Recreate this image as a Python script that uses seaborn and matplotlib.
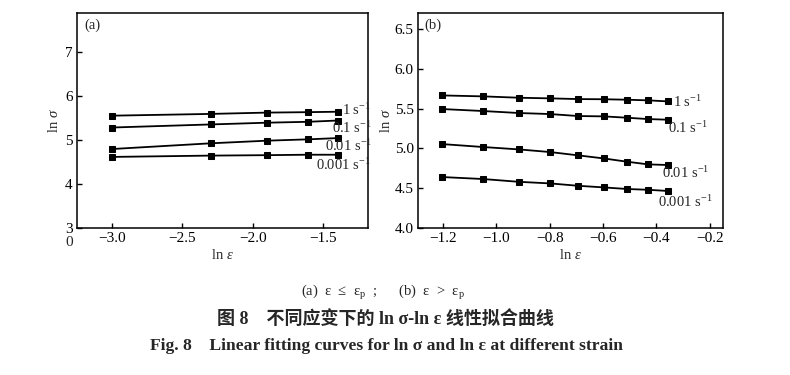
import numpy as np
import pandas as pd
import matplotlib
matplotlib.use("Agg")
import matplotlib.pyplot as plt
import seaborn as sns

# ---------------- data ----------------
rates = ["1 s$^{-1}$", "0.1 s$^{-1}$", "0.01 s$^{-1}$", "0.001 s$^{-1}$"]

x_a = [-3.00, -2.30, -1.90, -1.61, -1.39]
y_a_1 = [5.56, 5.60, 5.63, 5.64, 5.65]
y_a_01 = [5.29, 5.36, 5.40, 5.42, 5.45]
y_a_001 = [4.80, 4.93, 4.99, 5.02, 5.05]
y_a_0001 = [4.62, 4.65, 4.66, 4.67, 4.67]

x_b = [-1.204, -1.050, -0.916, -0.799, -0.693, -0.598, -0.511, -0.431, -0.357]
y_b_1 = [5.665, 5.653, 5.636, 5.628, 5.619, 5.617, 5.611, 5.603, 5.590]
y_b_01 = [5.494, 5.469, 5.444, 5.431, 5.406, 5.402, 5.385, 5.368, 5.360]
y_b_001 = [5.054, 5.017, 4.987, 4.954, 4.912, 4.874, 4.833, 4.799, 4.791]
y_b_0001 = [4.640, 4.615, 4.580, 4.560, 4.530, 4.510, 4.490, 4.480, 4.465]

xticks_a = [-3.0, -2.5, -2.0, -1.5]
yticks_a = [3, 4, 5, 6, 7]
xticks_b = [-1.2, -1.0, -0.8, -0.6, -0.4, -0.2]
yticks_b = [4.0, 4.5, 5.0, 5.5, 6.0, 6.5]

caption1 = "(a)  ε  ≤  ε$_\\mathrm{p}$  ;      (b)  ε  >  ε$_\\mathrm{p}$"
caption2 = "图 8    不同应变下的 ln σ-ln ε 线性拟合曲线"
caption3 = "Fig. 8    Linear fitting curves for ln σ and ln ε at different strain"

# ---------------- style ----------------
sns.set_theme(style="ticks")
plt.rcParams["font.family"] = ["Liberation Serif", "Noto Sans CJK SC", "DejaVu Sans"]
plt.rcParams["mathtext.fontset"] = "custom"
plt.rcParams["mathtext.rm"] = "Liberation Serif"
plt.rcParams["mathtext.it"] = "Liberation Serif:italic"
plt.rcParams["mathtext.bf"] = "Liberation Serif:bold"
plt.rcParams["xtick.direction"] = "in"
plt.rcParams["ytick.direction"] = "in"

fig = plt.figure(figsize=(7.9, 3.75), dpi=100)
W, H = 790, 375


def px_axes(l, t, r, b):
    return fig.add_axes([l / W, 1 - b / H, (r - l) / W, (b - t) / H])


ax_a = px_axes(77, 13, 368, 228)
ax_b = px_axes(418, 13, 723, 228)


def draw(ax, x, ys):
    frames = []
    for name, y in zip(rates, ys):
        frames.append(pd.DataFrame({"x": x, "y": y, "rate": name}))
    df = pd.concat(frames, ignore_index=True)
    sns.lineplot(data=df, x="x", y="y", hue="rate", units="rate", estimator=None,
                 palette=["black"] * len(rates), marker="s", markersize=5,
                 markeredgecolor="black", linewidth=1.3, legend=False, ax=ax,
                 sort=False)


draw(ax_a, x_a, [y_a_1, y_a_01, y_a_001, y_a_0001])
draw(ax_b, x_b, [y_b_1, y_b_01, y_b_001, y_b_0001])

for ax in (ax_a, ax_b):
    for s in ax.spines.values():
        s.set_visible(True)
        s.set_linewidth(1.1)
        s.set_color("black")
    ax.tick_params(labelsize=11, length=3.5, width=1, colors="black", pad=3)
    ax.set_facecolor("white")
    ax.grid(False)

ax_a.set_xlim(-3.25, -1.18)
ax_a.set_ylim(3, 7.9)
ax_a.set_xticks(xticks_a)
ax_a.set_xticklabels(["−3.0", "−2.5", "−2.0", "−1.5"])
ax_a.set_yticks(yticks_a)
ax_a.set_xlabel(r"ln $\varepsilon$", fontsize=10.5, labelpad=2)
ax_a.set_ylabel(r"ln $\sigma$", fontsize=10.5, labelpad=3)
ax_a.text(0.025, 0.975, "(a)", transform=ax_a.transAxes, ha="left", va="top", fontsize=10.5)

ax_b.set_xlim(-1.294, -0.15)
ax_b.set_ylim(4.0, 6.7)
ax_b.set_xticks(xticks_b)
ax_b.set_xticklabels(["−1.2", "−1.0", "−0.8", "−0.6", "−0.4", "−0.2"])
ax_b.set_yticks(yticks_b)
ax_b.set_yticklabels(["4.0", "4.5", "5.0", "5.5", "6.0", "6.5"])
ax_b.set_xlabel(r"ln $\varepsilon$", fontsize=10.5, labelpad=2)
ax_b.set_ylabel(r"ln $\sigma$", fontsize=10.5, labelpad=1)
ax_b.text(0.02, 0.975, "(b)", transform=ax_b.transAxes, ha="left", va="top", fontsize=10.5)

# curve labels (positions in pixels)
labels_a_pos = [(342, 110), (332, 128), (325, 146), (316, 165)]
labels_b_pos = [(673, 102), (668, 128), (662, 173), (658, 202)]
for (px, py), name in zip(labels_a_pos, rates):
    fig.text(px / W, 1 - py / H, name, fontsize=10.5, ha="left", va="center")
for (px, py), name in zip(labels_b_pos, rates):
    fig.text(px / W, 1 - py / H, name, fontsize=10.5, ha="left", va="center")

fig.text(69 / W, 1 - 243 / H, "0", fontsize=11, ha="center", va="center")

fig.text(383 / W, 1 - 293 / H, caption1, fontsize=10.5, ha="center", va="center")
fig.text(385 / W, 1 - 319 / H, caption2, fontsize=13, ha="center", va="center",
         fontweight="bold")
fig.text(387 / W, 1 - 346 / H, caption3, fontsize=12.6, ha="center", va="center",
         fontweight="bold")

fig.savefig("out.png", dpi=100, facecolor="white")
